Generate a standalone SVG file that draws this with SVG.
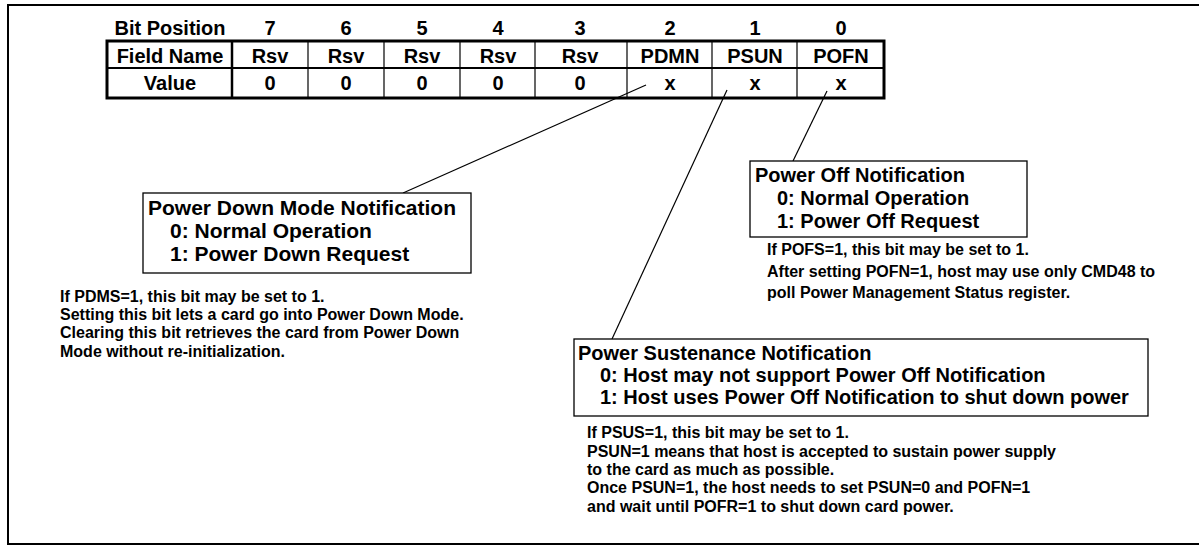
<svg xmlns="http://www.w3.org/2000/svg" width="1199" height="547" viewBox="0 0 1199 547">
<style>
text{font-family:"Liberation Sans",Arial,Helvetica,sans-serif;font-weight:bold;fill:#000}
.t{font-size:20px}
.t21{font-size:21px}
.c{text-anchor:middle}
.n{font-size:16px}
.box{fill:#fff;stroke:#000;stroke-width:1.3}
.conn{stroke:#000;stroke-width:1.2;fill:none}
.grid{stroke:#000;fill:none}
</style>
<rect x="0" y="0" width="1199" height="547" fill="#fff"/>
<rect id="frame" x="8" y="5" width="1200" height="539" fill="none" stroke="#000" stroke-width="2"/>

<g id="register-table">
  <g class="t c">
    <text x="170" y="35">Bit Position</text>
    <text x="270" y="35">7</text>
    <text x="346" y="35">6</text>
    <text x="422" y="35">5</text>
    <text x="498" y="35">4</text>
    <text x="580" y="35">3</text>
    <text x="670" y="35">2</text>
    <text x="755" y="35">1</text>
    <text x="841" y="35">0</text>

    <text x="170" y="63">Field Name</text>
    <text x="270" y="63">Rsv</text>
    <text x="346" y="63">Rsv</text>
    <text x="422" y="63">Rsv</text>
    <text x="498" y="63">Rsv</text>
    <text x="580" y="63">Rsv</text>
    <text x="670" y="63">PDMN</text>
    <text x="755" y="63">PSUN</text>
    <text x="841" y="63">POFN</text>

    <text x="170" y="90">Value</text>
    <text x="270" y="90">0</text>
    <text x="346" y="90">0</text>
    <text x="422" y="90">0</text>
    <text x="498" y="90">0</text>
    <text x="580" y="90">0</text>
    <text x="670" y="90">x</text>
    <text x="755" y="90">x</text>
    <text x="841" y="90">x</text>
  </g>
  <g class="grid">
    <line x1="107" y1="68" x2="884" y2="68" stroke-width="2"/>
    <line x1="232" y1="41" x2="232" y2="98" stroke-width="2.5"/>
    <line x1="308" y1="41" x2="308" y2="98" stroke-width="1.2"/>
    <line x1="384" y1="41" x2="384" y2="98" stroke-width="1.2"/>
    <line x1="460" y1="41" x2="460" y2="98" stroke-width="1.2"/>
    <line x1="535" y1="41" x2="535" y2="98" stroke-width="1.2"/>
    <line x1="627" y1="41" x2="627" y2="98" stroke-width="1.2"/>
    <line x1="712" y1="41" x2="712" y2="98" stroke-width="1.2"/>
    <line x1="797" y1="41" x2="797" y2="98" stroke-width="1.2"/>
    <rect x="107" y="41" width="777" height="57" stroke-width="3"/>
  </g>
</g>

<g id="connectors">
  <line class="conn" x1="646" y1="85" x2="403" y2="193"/>
  <line class="conn" x1="727" y1="90" x2="612" y2="339"/>
  <line class="conn" x1="827" y1="91" x2="793" y2="161"/>
</g>

<g id="pdmn-node">
  <rect class="box" x="143" y="193" width="328" height="80"/>
  <text class="t21" x="148" y="215">Power Down Mode Notification</text>
  <text class="t21" x="170" y="238">0: Normal Operation</text>
  <text class="t21" x="170" y="261">1: Power Down Request</text>
  <text class="n" x="60" y="302">If PDMS=1, this bit may be set to 1.</text>
  <text class="n" x="60" y="320">Setting this bit lets a card go into Power Down Mode.</text>
  <text class="n" x="60" y="338">Clearing this bit retrieves the card from Power Down</text>
  <text class="n" x="60" y="357">Mode without re-initialization.</text>
</g>

<g id="pofn-node">
  <rect class="box" x="750" y="161" width="277" height="76"/>
  <text class="t" x="755" y="182">Power Off Notification</text>
  <text class="t" x="777" y="205">0: Normal Operation</text>
  <text class="t" x="777" y="228">1: Power Off Request</text>
  <text class="n" x="767" y="255">If POFS=1, this bit may be set to 1.</text>
  <text class="n" x="767" y="277">After setting POFN=1, host may use only CMD48 to</text>
  <text class="n" x="767" y="298">poll Power Management Status register.</text>
</g>

<g id="psun-node">
  <rect class="box" x="574" y="339" width="574" height="77"/>
  <text class="t" x="578" y="360">Power Sustenance Notification</text>
  <text class="t" x="600" y="382">0: Host may not support Power Off Notification</text>
  <text class="t" x="600" y="404">1: Host uses Power Off Notification to shut down power</text>
  <text class="n" x="587" y="438">If PSUS=1, this bit may be set to 1.</text>
  <text class="n" x="587" y="457">PSUN=1 means that host is accepted to sustain power supply</text>
  <text class="n" x="587" y="475">to the card as much as possible.</text>
  <text class="n" x="587" y="493">Once PSUN=1, the host needs to set PSUN=0 and POFN=1</text>
  <text class="n" x="587" y="512">and wait until POFR=1 to shut down card power.</text>
</g>
</svg>
